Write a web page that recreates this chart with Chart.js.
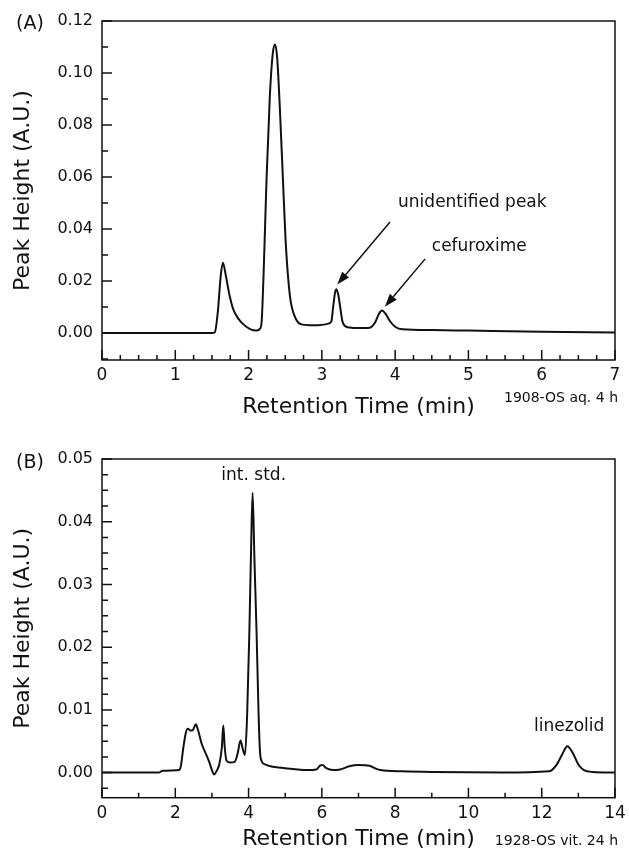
<!DOCTYPE html>
<html>
<head>
<meta charset="utf-8">
<script src="https://cdn.jsdelivr.net/npm/chart.js@4.4.0/dist/chart.umd.min.js"></script>
<style>
  html, body { margin: 0; padding: 0; background: #fff; }
  #wrapA { position: absolute; left: 0; top: 0; width: 629px; height: 420px; }
  #wrapB { position: absolute; left: 0; top: 420px; width: 629px; height: 440px; }
</style>
</head>
<body>
<div id="wrapA"><canvas id="chartA" width="629" height="420"></canvas></div>
<div id="wrapB"><canvas id="chartB" width="629" height="440"></canvas></div>
<script>
// ---------- Panel A data ----------
const timeA = [0, 1.50, 1.54, 1.58, 1.62, 1.65, 1.69, 1.74, 1.79, 1.86, 1.93, 2.02, 2.11, 2.16,
  2.18, 2.21, 2.245, 2.29, 2.33, 2.36, 2.39, 2.43, 2.475, 2.51, 2.565, 2.63, 2.72, 2.83,
  2.95, 3.05, 3.10, 3.13, 3.155, 3.18, 3.20, 3.225, 3.25, 3.28, 3.32, 3.38, 3.50, 3.62,
  3.68, 3.73, 3.78, 3.82, 3.87, 3.93, 4.00, 4.10, 4.50, 5.00, 6.00, 7.00];
const signalA = [0, 0, 0.0003, 0.008, 0.022, 0.027, 0.022, 0.0145, 0.0092, 0.0055, 0.0033, 0.0015, 0.0009, 0.0018,
  0.005, 0.027, 0.059, 0.091, 0.1075, 0.111, 0.106, 0.0845, 0.055, 0.0333, 0.0141, 0.0064, 0.0033, 0.003,
  0.003, 0.0033, 0.0037, 0.0045, 0.0102, 0.0155, 0.0168, 0.0145, 0.0100, 0.0045, 0.0026, 0.0021, 0.0019, 0.0019,
  0.0024, 0.0042, 0.0074, 0.0086, 0.0073, 0.0045, 0.0024, 0.0014, 0.0011, 0.0009, 0.0005, 0.0002];
const xTicksA = [0, 1, 2, 3, 4, 5, 6, 7];
const yTicksA = [0.00, 0.02, 0.04, 0.06, 0.08, 0.10, 0.12];

// ---------- Panel B data ----------
const timeB = [0, 1.55, 1.65, 2.10, 2.15, 2.22, 2.29, 2.34, 2.42, 2.48, 2.56, 2.62, 2.72, 2.82, 2.92,
  3.00, 3.06, 3.12, 3.20, 3.27, 3.31, 3.35, 3.40, 3.50, 3.62, 3.70, 3.78, 3.84, 3.90,
  3.96, 4.02, 4.07, 4.11, 4.16, 4.22, 4.27, 4.31, 4.36, 4.45, 4.60, 5.00, 5.60, 5.85,
  5.95, 6.02, 6.12, 6.30, 6.50, 6.75, 7.00, 7.30, 7.45, 7.60, 8.20, 9.00, 10.90, 12.20,
  12.40, 12.55, 12.70, 12.85, 13.00, 13.15, 13.40, 14.00];
const signalB = [0, 0, 0.0003, 0.0004, 0.001, 0.004, 0.0064, 0.0070, 0.0067, 0.0068, 0.0077, 0.0068, 0.0046, 0.0032, 0.0018,
  0.0004, -0.0003, 0.0002, 0.0013, 0.004, 0.0075, 0.004, 0.0019, 0.0016, 0.0017, 0.003, 0.0051, 0.0038, 0.0028,
  0.009, 0.022, 0.036, 0.0446, 0.034, 0.022, 0.010, 0.0035, 0.0018, 0.0013, 0.001, 0.0007, 0.0004, 0.0005,
  0.0011, 0.0012, 0.0007, 0.0004, 0.0005, 0.001, 0.0012, 0.0011, 0.0007, 0.0004, 0.0002, 0.0001, 0, 0.0002,
  0.0012, 0.0028, 0.0042, 0.0031, 0.0013, 0.0004, 0.0001, 0];
const xTicksB = [0, 2, 4, 6, 8, 10, 12, 14];
const yTicksB = [0.00, 0.01, 0.02, 0.03, 0.04, 0.05];

// ---------- Text ----------
const yTitle = 'Peak Height (A.U.)';
const xTitle = 'Retention Time (min)';

const FAM = "'DejaVu Sans', Verdana, sans-serif";
Chart.defaults.font.family = FAM;
Chart.defaults.color = '#111';

// plugin: frame, inside ticks, annotations
const framePlugin = {
  id: 'frameTicks',
  afterDatasetsDraw(chart, args, o) {
    const ctx = chart.ctx;
    const {left, right, top, bottom} = chart.chartArea;
    const x = chart.scales.x, y = chart.scales.y;
    ctx.save();
    ctx.strokeStyle = '#111';
    ctx.lineWidth = 1.5;
    ctx.strokeRect(left, top, right - left, bottom - top);
    ctx.beginPath();
    for (let v = x.min; v <= x.max + 1e-9; v += o.xMinor) {
      const major = Math.abs(v / o.xMajor - Math.round(v / o.xMajor)) < 1e-6;
      const px = x.getPixelForValue(v);
      ctx.moveTo(px, bottom);
      ctx.lineTo(px, bottom - (major ? 10 : 5));
    }
    const start = Math.ceil(y.min / o.yMinor - 1e-6) * o.yMinor;
    for (let v = start; v <= y.max + 1e-9; v += o.yMinor) {
      const major = Math.abs(v / o.yMajor - Math.round(v / o.yMajor)) < 1e-6;
      const py = y.getPixelForValue(v);
      ctx.moveTo(left, py);
      ctx.lineTo(left + (major ? 10 : 6), py);
    }
    ctx.stroke();

    // arrows (data coordinates)
    (o.arrows || []).forEach(a => {
      const x1 = x.getPixelForValue(a.from[0]), y1 = y.getPixelForValue(a.from[1]);
      const x2 = x.getPixelForValue(a.to[0]), y2 = y.getPixelForValue(a.to[1]);
      const ang = Math.atan2(y2 - y1, x2 - x1);
      const hl = 13, hw = 4.5;
      const bx = x2 - hl * Math.cos(ang), by = y2 - hl * Math.sin(ang);
      ctx.lineWidth = 1.5;
      ctx.beginPath();
      ctx.moveTo(x1, y1);
      ctx.lineTo(bx, by);
      ctx.stroke();
      ctx.beginPath();
      ctx.moveTo(x2, y2);
      ctx.lineTo(bx + hw * Math.sin(ang), by - hw * Math.cos(ang));
      ctx.lineTo(bx - hw * Math.sin(ang), by + hw * Math.cos(ang));
      ctx.closePath();
      ctx.fillStyle = '#111';
      ctx.fill();
    });

    // labels in data coordinates
    ctx.fillStyle = '#111';
    ctx.textBaseline = 'middle';
    (o.labels || []).forEach(l => {
      ctx.font = (l.size || 17) + 'px ' + FAM;
      ctx.textAlign = l.align || 'left';
      ctx.fillText(l.text, x.getPixelForValue(l.x), y.getPixelForValue(l.y));
    });
    // labels in canvas pixels
    (o.fixedLabels || []).forEach(l => {
      ctx.font = l.size + 'px ' + FAM;
      ctx.textAlign = l.align || 'left';
      ctx.fillText(l.text, l.px, l.py);
    });
    ctx.restore();
  }
};

function makeChart(id, times, signal, xTicks, yTicks, cfg) {
  const pts = times.map((t, i) => ({x: t, y: signal[i]}));
  return new Chart(document.getElementById(id), {
    type: 'scatter',
    data: {
      datasets: [{
        data: pts,
        showLine: true,
        borderColor: '#111',
        borderWidth: 2,
        pointRadius: 0,
        cubicInterpolationMode: 'monotone',
        fill: false
      }]
    },
    options: {
      responsive: false,
      animation: false,
      events: [],
      layout: { padding: { left: 0, right: 14, top: cfg.top, bottom: 0 } },
      plugins: {
        legend: { display: false },
        tooltip: { enabled: false },
        frameTicks: cfg.plugin
      },
      scales: {
        x: {
          type: 'linear',
          min: xTicks[0], max: xTicks[xTicks.length - 1],
          grid: { display: false, drawTicks: false },
          border: { display: false },
          afterBuildTicks: s => { s.ticks = xTicks.map(v => ({value: v})); },
          afterFit: s => { s.height = cfg.xHeight; s.paddingLeft = 0; s.paddingRight = 0; },
          ticks: { font: { size: 17 }, padding: cfg.xTickPad, maxRotation: 0, callback: v => String(v) },
          title: { display: true, text: xTitle, font: { size: 22 }, padding: { top: 0, bottom: cfg.xTitlePad } }
        },
        y: {
          type: 'linear',
          min: cfg.ymin, max: yTicks[yTicks.length - 1],
          grid: { display: false, drawTicks: false },
          border: { display: false },
          afterBuildTicks: s => { s.ticks = yTicks.map(v => ({value: v})); },
          afterFit: s => { s.width = 102; s.paddingTop = 0; s.paddingBottom = 0; },
          ticks: { font: { size: 16 }, padding: 9, callback: v => v.toFixed(2) },
          title: { display: true, text: yTitle, font: { size: 22 }, padding: { top: 10, bottom: 0 } }
        }
      }
    },
    plugins: [framePlugin]
  });
}

makeChart('chartA', timeA, signalA, xTicksA, yTicksA, {
  top: 21, xHeight: 60, ymin: -0.0104, xTitlePad: 0, xTickPad: 5,
  plugin: {
    xMinor: 0.25, xMajor: 1, yMinor: 0.01, yMajor: 0.02,
    arrows: [
      { from: [3.93, 0.0427], to: [3.21, 0.0186] },
      { from: [4.41, 0.0285], to: [3.86, 0.0101] }
    ],
    labels: [
      { text: 'unidentified peak', x: 4.04, y: 0.0502 },
      { text: 'cefuroxime', x: 4.50, y: 0.0333 }
    ],
    fixedLabels: [
      { text: '(A)', px: 30, py: 24, size: 19, align: 'center' },
      { text: '1908-OS aq. 4 h', px: 618, py: 398, size: 14, align: 'right' }
    ]
  }
});

makeChart('chartB', timeB, signalB, xTicksB, yTicksB, {
  top: 39, xHeight: 62.3, ymin: -0.004, xTitlePad: 8, xTickPad: 6,
  plugin: {
    xMinor: 1, xMajor: 2, yMinor: 0.0025, yMajor: 0.01,
    labels: [
      { text: 'int. std.', x: 4.14, y: 0.0473, align: 'center' },
      { text: 'linezolid', x: 12.75, y: 0.0073, align: 'center' }
    ],
    fixedLabels: [
      { text: '(B)', px: 30, py: 43, size: 19, align: 'center' },
      { text: '1928-OS vit. 24 h', px: 618, py: 421, size: 14, align: 'right' }
    ]
  }
});
</script>
</body>
</html>
